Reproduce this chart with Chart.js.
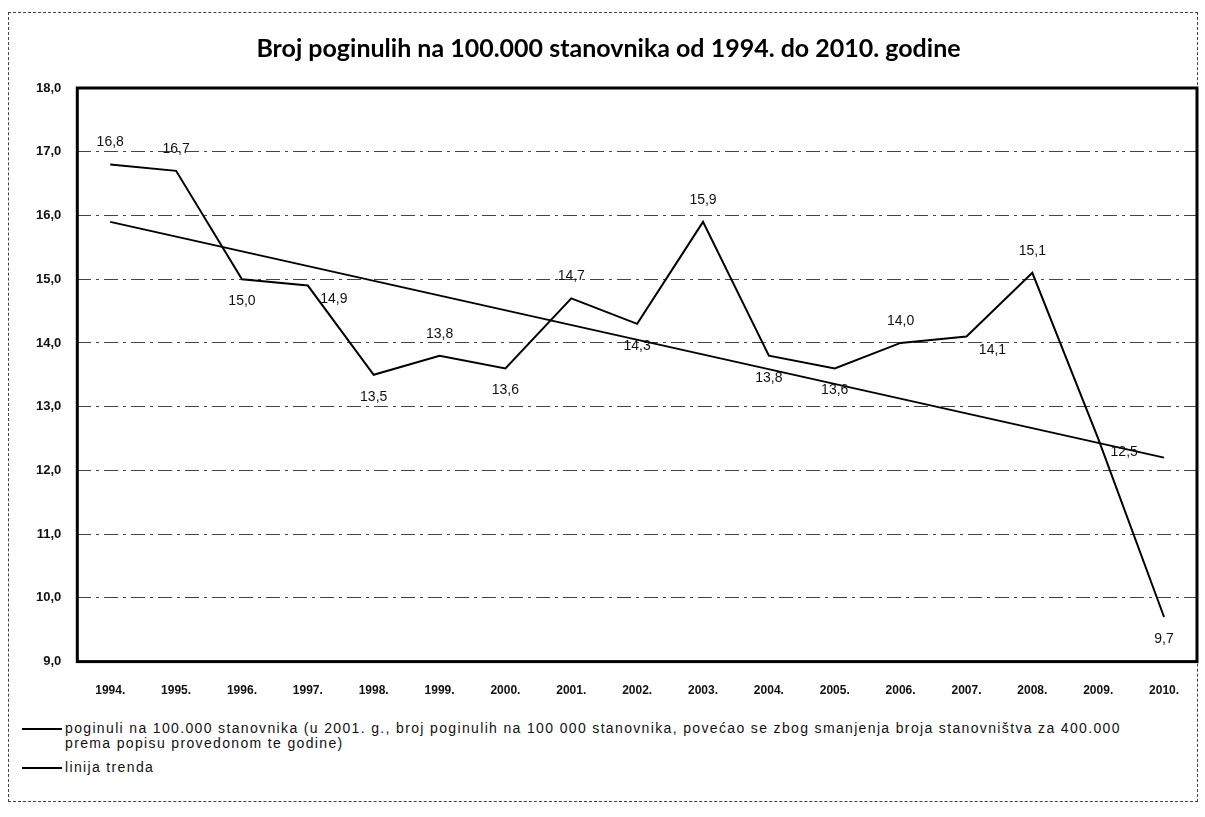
<!DOCTYPE html>
<html>
<head>
<meta charset="utf-8">
<script src="https://cdn.jsdelivr.net/npm/chart.js@4.4.1/dist/chart.umd.min.js"></script>
<style>
  body { margin: 0; background: #fff; }
  #wrap { position: relative; width: 1205px; height: 817px; }
  #frame { position: absolute; left: 8px; top: 12px; width: 1190px; height: 790px; border: 1px dashed #444; box-sizing: border-box; }
  #box { position: absolute; left: 0; top: 0; width: 1205px; height: 712px; }
  #legend { position: absolute; left: 22px; top: 721px; font-family: "Liberation Sans", Arial, sans-serif; font-size: 14px; letter-spacing: 1.35px; color: #111; line-height: 15px; }
  .row { display: flex; align-items: flex-start; margin-bottom: 9px; }
  .swatch { width: 40px; height: 2px; background: #000; margin-top: 7px; margin-right: 3px; flex: none; }
</style>
</head>
<body>
<div id="wrap">
  <div id="frame"></div>
  <div id="box"><canvas id="chart"></canvas></div>
  <div id="legend">
    <div class="row"><div class="swatch"></div><div>poginuli na 100.000 stanovnika (u 2001. g., broj poginulih na 100 000 stanovnika, povećao se zbog smanjenja broja stanovništva za 400.000<br>prema popisu provedonom te godine)</div></div>
    <div class="row"><div class="swatch" style="height:1.5px"></div><div>linija trenda</div></div>
  </div>
</div>
<script>
const years = ['1994.', '1995.', '1996.', '1997.', '1998.', '1999.', '2000.', '2001.', '2002.', '2003.', '2004.', '2005.', '2006.', '2007.', '2008.', '2009.', '2010.'];
const killed = [16.8, 16.7, 15.0, 14.9, 13.5, 13.8, 13.6, 14.7, 14.3, 15.9, 13.8, 13.6, 14.0, 14.1, 15.1, 12.5, 9.7];
// trend line read at its two ends
const trend = [15.9, null, null, null, null, null, null, null, null, null, null, null, null, null, null, null, 12.2];
const labelPos = ['above', 'above', 'below', 'right', 'below', 'above', 'below', 'above', 'below', 'above', 'below', 'below', 'above', 'right', 'above', 'right', 'below'];

const fmt = v => v.toFixed(1).replace('.', ',');

const valueLabels = {
  id: 'valueLabels',
  afterDatasetsDraw(chart) {
    const ctx = chart.ctx;
    const meta = chart.getDatasetMeta(0);
    ctx.save();
    ctx.font = '14px "Liberation Sans", Arial, sans-serif';
    ctx.fillStyle = '#111';
    ctx.textAlign = 'center';
    ctx.textBaseline = 'middle';
    meta.data.forEach((pt, i) => {
      let x = pt.x, y = pt.y;
      const p = labelPos[i];
      if (p === 'above') y -= 22;
      else if (p === 'below') y += 22;
      else { x += 26; y += 14; }
      ctx.fillText(fmt(killed[i]), x, y);
    });
    ctx.restore();
  }
};

const plotBorder = {
  id: 'plotBorder',
  afterDraw(chart) {
    const a = chart.chartArea;
    const ctx = chart.ctx;
    ctx.save();
    ctx.strokeStyle = '#000';
    ctx.lineWidth = 3;
    ctx.strokeRect(a.left, a.top, a.right - a.left, a.bottom - a.top);
    ctx.restore();
  }
};

new Chart(document.getElementById('chart'), {
  type: 'line',
  data: {
    labels: years,
    datasets: [
      { label: 'poginuli na 100.000 stanovnika', data: killed, borderColor: '#000', borderWidth: 2, pointRadius: 0, tension: 0 },
      { label: 'linija trenda', data: trend, borderColor: '#000', borderWidth: 1.8, pointRadius: 0, spanGaps: true }
    ]
  },
  options: {
    responsive: true,
    maintainAspectRatio: false,
    animation: false,
    layout: { padding: { left: 20, right: 8, top: 34, bottom: 0 } },
    plugins: {
      legend: { display: false },
      tooltip: { enabled: false },
      title: {
        display: true,
        text: 'Broj poginulih na 100.000 stanovnika od 1994. do 2010. godine',
        color: '#000',
        font: { family: 'Lato, "Open Sans", sans-serif', size: 25, weight: 'bold' },
        padding: { top: 0, bottom: 24 }
      }
    },
    scales: {
      x: {
        offset: true,
        grid: { display: false, offset: true },
        border: { display: false },
        ticks: { color: '#111', font: { family: '"Liberation Sans", Arial, sans-serif', size: 12, weight: 'bold' }, padding: 14, maxRotation: 0, autoSkip: false }
      },
      y: {
        min: 9, max: 18,
        grid: { color: '#444', lineWidth: 1, drawTicks: false },
        border: { display: false, dash: [14, 5, 3, 5] },
        ticks: { stepSize: 1, color: '#111', padding: 16, font: { family: '"Liberation Sans", Arial, sans-serif', size: 13, weight: 'bold' }, callback: v => fmt(v) }
      }
    }
  },
  plugins: [valueLabels, plotBorder]
});
</script>
</body>
</html>
